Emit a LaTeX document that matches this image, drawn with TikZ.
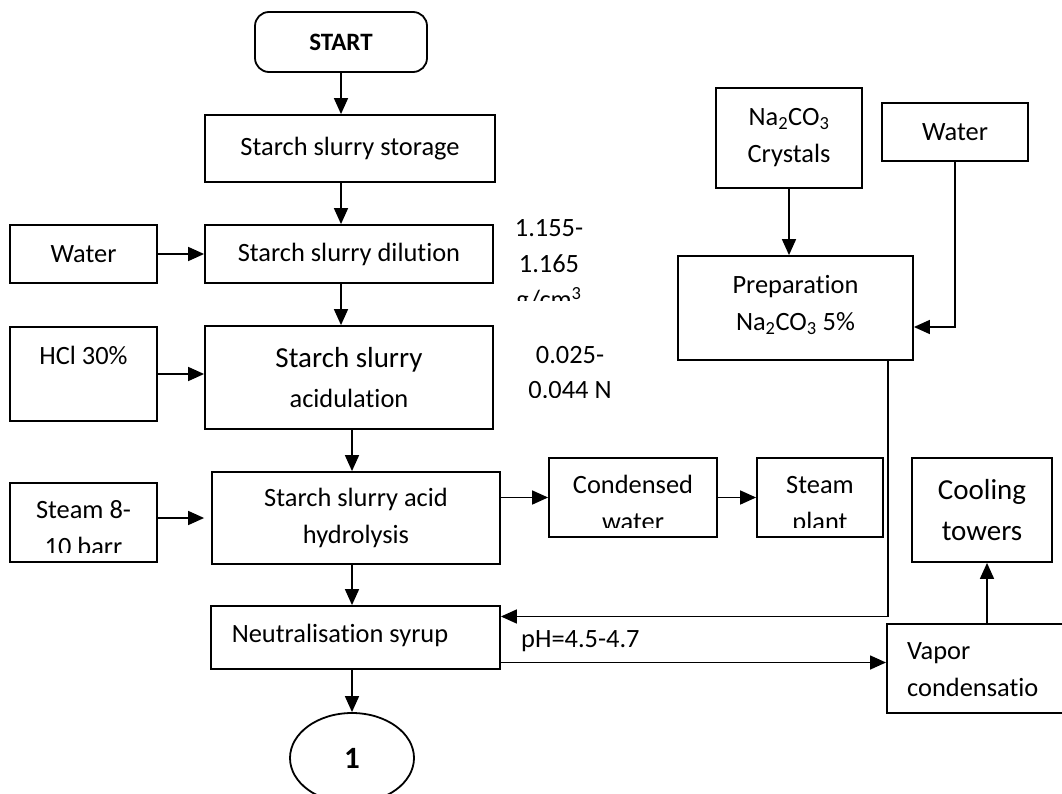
\documentclass[tikz,border=0pt]{standalone}
\usepackage{fontspec}
\setmainfont{Carlito}[Ligatures={NoCommon,NoContextual}]
\usepackage{tikz}
\usetikzlibrary{positioning,calc,arrows.meta,shapes.geometric}
\newcommand{\flowbodyfont}{\fontsize{26.4}{37}\selectfont}
\newcommand{\flowbigfont}{\fontsize{29}{41}\selectfont}
\tikzset{
  flowfont/.style={font=\flowbodyfont},
  flowsize/.style 2 args={minimum width=#1, minimum height=#2},
  flowbox/.style={draw, line width=1.8pt, align=center, inner sep=0pt},
  flowstart/.style={flowbox, rounded corners=14pt, font=\fontsize{25}{30}\selectfont\bfseries},
  flowtext/.style={align=center, inner sep=0pt},
  flowarrow/.style={-{Triangle[length=16pt,width=14pt]}, line width=1.6pt},
}

\begin{document}
\begin{tikzpicture}[flowfont, x=1pt, y=-1pt]
  \useasboundingbox (0,0) rectangle (1062,794);
  \clip (0,0) rectangle (1062,794);

  % Main process column
  \node[flowstart, flowsize={172pt}{60pt}] (start) at (341,42) {START};
  \node[flowbox, flowsize={290pt}{67pt}] (store) at (350,148.5) {Starch slurry storage};
  \node[flowbox, flowsize={288pt}{58pt}] (dilute) at (349,254) {Starch slurry dilution};
  \node[flowbox, flowsize={288pt}{103pt}] (acidul) at (349,377.5) {{\flowbigfont Starch slurry}\\[3pt]acidulation};
  \node[flowbox, flowsize={288pt}{92pt}] (hydrol) at (356,518) {Starch slurry acid\\hydrolysis};
  \node[flowbox, flowsize={289pt}{63pt}] (neutral) at (355.5,637.5) {};
  \node[flowtext] at (340,635) {Neutralisation syrup};
  \node[draw, ellipse, line width=1.8pt, inner sep=0pt, flowsize={124pt}{90pt},
        font=\fontsize{31}{34}\selectfont\bfseries] (one) at (352,758) {1};

  % Feeds on the left
  \node[flowbox, flowsize={147pt}{58pt}] (water) at (83.5,254) {Water};
  \node[flowbox, flowsize={147pt}{94pt}] (hcl) at (83.5,374) {HCl 30\%\\\mbox{}};
  \node[flowbox, flowsize={147pt}{79pt}] (steam) at (83.5,522.5) {};
  \begin{scope}
    \clip (steam.north west) rectangle ([yshift=10pt]steam.south east);
    \node[flowtext] at (83.5,530) {\strut Steam 8-\\\strut 10 barr};
  \end{scope}

  % Condensate branch
  \node[flowbox, flowsize={168pt}{79pt}] (condensed) at (633,497.5) {};
  \node[flowbox, flowsize={126pt}{79pt}] (steamplant) at (820,497.5) {};
  \begin{scope}
    \clip (condensed.north west) rectangle ([yshift=10.5pt]steamplant.south east);
    \node[flowtext] at (633,505) {\strut Condensed\\\strut water};
    \node[flowtext] at (820,505) {\strut Steam\\\strut plant};
  \end{scope}

  % Soda solution and vapours
  \node[flowbox, flowsize={146pt}{100pt}] (soda) at (789,138) {Na\textsubscript{2}CO\textsubscript{3}\\Crystals};
  \node[flowbox, flowsize={146pt}{58pt}] (water2) at (955,132) {Water};
  \node[flowbox, flowsize={235pt}{104pt}] (prep) at (795.5,308) {};
  \node[flowtext] at (795.5,305) {Preparation\\Na\textsubscript{2}CO\textsubscript{3} 5\%};
  \node[flowbox, flowsize={140pt}{104pt}, font=\flowbigfont] (cooling) at (982,510) {Cooling\\towers};
  \node[flowbox, flowsize={184pt}{89pt}, anchor=west] (vapour) at (886,668.5) {};
  \node[flowtext, align=left, anchor=west] at (907,670) {Vapor\\condensatio};

  % Side values
  \begin{scope}
    \clip (480,200) rectangle (660,300);
    \node[flowtext, font=\fontsize{26.4}{36}\selectfont] at (549,266) {1.155-\\1.165\\g/cm\textsuperscript{3}};
  \end{scope}
  \begin{scope}
    \clip (480,320) rectangle (660,397.5);
    \node[flowtext, font=\fontsize{26.4}{35}\selectfont] at (570,372.5) {0.025-\\0.044 N};
  \end{scope}
  \node[flowtext, anchor=west] (ph) at (521,641) {pH=4.5-4.7};

  % Main flow
  \draw[flowarrow] (start) -- (start |- store.north);
  \draw[flowarrow] (store.south -| start) -- (dilute.north -| start);
  \draw[flowarrow] (dilute.south -| start) -- (acidul.north -| start);
  \draw[flowarrow] (acidul.south -| one) -- (hydrol.north -| one);
  \draw[flowarrow] (hydrol.south -| one) -- (neutral.north -| one);
  \draw[flowarrow] (neutral.south -| one) -- (one);

  % Feeds
  \draw[flowarrow] (water) -- (dilute);
  \draw[flowarrow] (hcl) -- (hcl -| acidul.west);
  \draw[flowarrow, shorten >=7pt] (steam.east |- hydrol) -- (hydrol);

  % Condensate
  \draw[flowarrow] (hydrol.east |- condensed) -- (condensed);
  \draw[flowarrow] (condensed) -- (steamplant);

  % Soda solution to neutralisation
  \draw[flowarrow] (soda) -- (soda |- prep.north);
  \draw[flowarrow] (water2) |- ([yshift=-19pt]prep.east);
  \draw[flowarrow] ([xshift=-26pt]prep.south east) |- ([yshift=21pt]neutral.east);

  % Vapours
  \coordinate (coolin) at ([xshift=5pt]cooling.south);
  \draw[flowarrow] ([yshift=-25pt]neutral.east) -- ([yshift=-25pt]neutral.east -| vapour.west);
  \draw[flowarrow] (coolin |- vapour.north) -- (coolin);
\end{tikzpicture}
\end{document}
